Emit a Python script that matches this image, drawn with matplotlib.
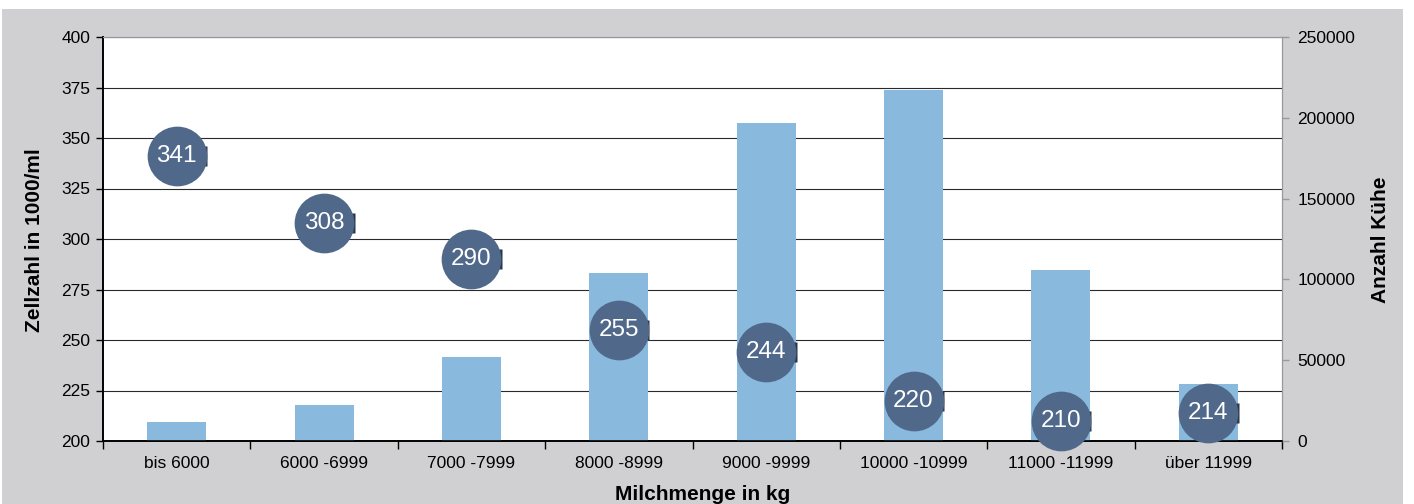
import matplotlib
matplotlib.use("Agg")
import matplotlib.pyplot as plt
import matplotlib.transforms as mtransforms
from matplotlib.patches import Rectangle

plt.rcParams['font.family'] = ['Liberation Sans', 'DejaVu Sans']

categories = ["bis 6000", "6000 -6999", "7000 -7999", "8000 -8999",
              "9000 -9999", "10000 -10999", "11000 -11999", "über 11999"]
cow_counts = [12000, 22000, 52000, 104000, 197000, 217000, 106000, 35000]
cell_counts = [341, 308, 290, 255, 244, 220, 210, 214]

left_ticks = [200, 225, 250, 275, 300, 325, 350, 375, 400]
right_ticks = [0, 50000, 100000, 150000, 200000, 250000]

W, H = 1414, 504
fig = plt.figure(figsize=(W / 100, H / 100), dpi=100)
fig.patch.set_facecolor('white')
fig.patches.append(Rectangle((2 / W, 0), (1403 - 2) / W, 1 - 9 / H,
                             transform=fig.transFigure, facecolor='#D0D0D2',
                             edgecolor='none', zorder=-10))

ax = fig.add_axes([103 / W, 1 - 441 / H, (1282 - 103) / W, (441 - 37) / H])
ax2 = ax.twinx()
ax.set_facecolor('white')
ax2.patch.set_visible(False)

n = len(categories)
x = list(range(n))

ax.set_xlim(-0.5, n - 0.5)
ax.set_ylim(200, 400)
ax2.set_ylim(0, 250000)

# gridlines on back axes
ax.set_yticks(left_ticks)
ax.yaxis.grid(True, color='#2a2a2a', linewidth=0.8)
ax.set_axisbelow(True)

# bars on front axes
ax2.bar(x, cow_counts, width=0.4, color='#8AB9DE', edgecolor='none', zorder=2)

# circles in left-axis coordinates
mark_off = mtransforms.ScaledTranslation(28.5 / 100, 0, fig.dpi_scale_trans)
bar_marker = [(-0.25, -1), (0.25, -1), (0.25, 1), (-0.25, 1), (-0.25, -1)]
ax2.plot(x, cell_counts, linestyle='none', marker=bar_marker, markersize=14,
         markerfacecolor='#2a374b', markeredgecolor='none',
         transform=ax.transData + mark_off, zorder=3, clip_on=False)
ax2.plot(x, cell_counts, linestyle='none', marker='o', markersize=43,
         markerfacecolor='#50688A', markeredgecolor='none',
         transform=ax.transData, zorder=4, clip_on=False)
for xi, v in zip(x, cell_counts):
    ax2.text(xi, v, str(v), transform=ax.transData, ha='center', va='center',
             color='white', fontsize=17.5, zorder=5, clip_on=False)

# x ticks
ax.set_xticks([i - 0.5 for i in range(n + 1)])
ax.set_xticklabels([])
ax.set_xticks(x, minor=True)
ax.set_xticklabels(categories, minor=True, fontsize=12.5)
ax.tick_params(axis='x', which='major', direction='out', length=6, width=1, color='black')
ax.tick_params(axis='x', which='minor', length=0, pad=11)

ax.set_yticklabels([str(t) for t in left_ticks], fontsize=12.5)
ax.tick_params(axis='y', direction='out', length=5, width=1, color='black', pad=4)

ax2.set_yticks(right_ticks)
ax2.set_yticklabels([str(t) for t in right_ticks], fontsize=12.5)
ax2.tick_params(axis='y', direction='out', length=5, width=1, color='#999999', pad=6)

for a in (ax, ax2):
    a.spines['left'].set_color('black')
    a.spines['bottom'].set_color('black')
    a.spines['top'].set_color('#999999')
    a.spines['right'].set_color('#999999')
    a.spines['left'].set_linewidth(1.2)
    a.spines['bottom'].set_linewidth(1.2)

fig.text(35 / W, 1 - 240 / H, 'Zellzahl in 1000/ml', rotation=90, ha='center', va='center',
         fontsize=15, fontweight='bold')
fig.text(1381 / W, 1 - 240 / H, 'Anzahl Kühe', rotation=90, ha='center', va='center',
         fontsize=15, fontweight='bold')
fig.text(703 / W, 1 - 494 / H, 'Milchmenge in kg', ha='center', va='center',
         fontsize=15, fontweight='bold')

fig.savefig('out.png', dpi=100)
